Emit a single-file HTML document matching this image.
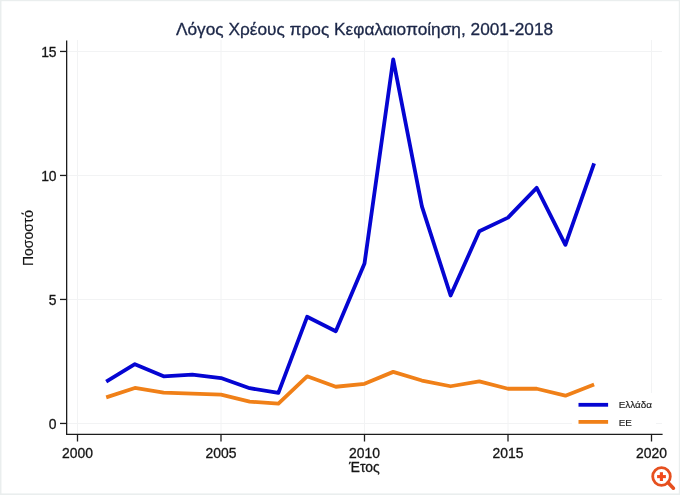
<!DOCTYPE html>
<html lang="el">
<head>
<meta charset="utf-8">
<title>Λόγος Χρέους προς Κεφαλαιοποίηση, 2001-2018</title>
<style>
html,body{margin:0;padding:0;background:#fff;}
body{width:680px;height:495px;overflow:hidden;position:relative;font-family:"Liberation Sans",sans-serif;}
svg{display:block;position:absolute;left:0;top:0;}
.g{stroke:#f2f3f4;stroke-width:1;}
.a{stroke:#1c1c1c;stroke-width:1.3;}
.t{font-family:"Liberation Sans",sans-serif;font-size:13.9px;fill:#151515;stroke:#151515;stroke-width:0.3px;}
.ttl{font-family:"Liberation Sans",sans-serif;font-size:17.28px;fill:#1c2748;stroke:#1c2748;stroke-width:0.3px;}
.lg{font-family:"Liberation Sans",sans-serif;font-size:9.9px;fill:#1a1a1a;stroke:#1a1a1a;stroke-width:0.15px;}
</style>
</head>
<body>
<svg width="680" height="495" viewBox="0 0 680 495">
<rect x="0" y="0" width="680" height="495" fill="#eaeeee"/>
<rect x="1.5" y="1.2" width="677.3" height="492.2" fill="#ffffff"/>
<line x1="77.50" y1="40" x2="77.50" y2="434" class="g"/>
<line x1="221.00" y1="40" x2="221.00" y2="434" class="g"/>
<line x1="364.50" y1="40" x2="364.50" y2="434" class="g"/>
<line x1="508.00" y1="40" x2="508.00" y2="434" class="g"/>
<line x1="651.50" y1="40" x2="651.50" y2="434" class="g"/>
<line x1="67" y1="423.45" x2="662" y2="423.45" class="g"/>
<line x1="67" y1="299.45" x2="662" y2="299.45" class="g"/>
<line x1="67" y1="175.45" x2="662" y2="175.45" class="g"/>
<line x1="67" y1="51.45" x2="662" y2="51.45" class="g"/>

<line x1="66.65" y1="40.6" x2="66.65" y2="434.6" class="a"/>
<line x1="66.05" y1="434.45" x2="662.6" y2="434.45" class="a"/>
<line x1="77.50" y1="434" x2="77.50" y2="441.5" class="a"/>
<text x="77.50" y="457.7" text-anchor="middle" class="t">2000</text>
<line x1="221.00" y1="434" x2="221.00" y2="441.5" class="a"/>
<text x="221.00" y="457.7" text-anchor="middle" class="t">2005</text>
<line x1="364.50" y1="434" x2="364.50" y2="441.5" class="a"/>
<text x="364.50" y="457.7" text-anchor="middle" class="t">2010</text>
<line x1="508.00" y1="434" x2="508.00" y2="441.5" class="a"/>
<text x="508.00" y="457.7" text-anchor="middle" class="t">2015</text>
<line x1="651.50" y1="434" x2="651.50" y2="441.5" class="a"/>
<text x="651.50" y="457.7" text-anchor="middle" class="t">2020</text>
<line x1="60" y1="423.45" x2="66.65" y2="423.45" class="a"/>
<text x="56.6" y="429.10" text-anchor="end" class="t">0</text>
<line x1="60" y1="299.45" x2="66.65" y2="299.45" class="a"/>
<text x="56.6" y="305.10" text-anchor="end" class="t">5</text>
<line x1="60" y1="175.45" x2="66.65" y2="175.45" class="a"/>
<text x="56.6" y="181.10" text-anchor="end" class="t">10</text>
<line x1="60" y1="51.45" x2="66.65" y2="51.45" class="a"/>
<text x="56.6" y="57.10" text-anchor="end" class="t">15</text>

<text x="364.5" y="34.6" text-anchor="middle" class="ttl">Λόγος Χρέους προς Κεφαλαιοποίηση, 2001-2018</text>
<text transform="translate(32.7,238) rotate(-90)" text-anchor="middle" class="t" style="stroke-width:0.12px">Ποσοστό</text>
<text x="364.3" y="471.5" text-anchor="middle" class="t">Έτος</text>
<rect x="572" y="393" width="84" height="40" fill="#fff"/>
<polyline points="106.20,381.54 134.90,364.18 163.60,376.33 192.30,374.72 221.00,378.07 249.70,388.23 278.40,392.95 307.10,316.81 335.80,331.19 364.50,263.49 393.20,59.39 421.90,206.45 450.60,295.48 479.30,231.25 508.00,217.61 536.70,187.85 565.40,244.89 594.10,163.30" fill="none" stroke="#0505d2" stroke-width="3.8" stroke-linejoin="round" stroke-linecap="butt"/>
<polyline points="106.20,397.41 134.90,387.99 163.60,392.70 192.30,393.69 221.00,394.68 249.70,401.63 278.40,403.61 307.10,376.33 335.80,386.75 364.50,383.77 393.20,371.87 421.90,380.55 450.60,386.25 479.30,381.29 508.00,388.73 536.70,388.73 565.40,395.67 594.10,384.51" fill="none" stroke="#f08018" stroke-width="3.8" stroke-linejoin="round" stroke-linecap="butt"/>
<line x1="578.5" y1="404.8" x2="608.1" y2="404.8" stroke="#0505d2" stroke-width="3.8"/>
<line x1="578.5" y1="421.9" x2="608.1" y2="421.9" stroke="#f08018" stroke-width="3.8"/>
<text x="618.7" y="408.4" class="lg">Ελλάδα</text>
<text x="618.7" y="425.5" class="lg">ΕΕ</text>
<g fill="none" stroke="#e6501f" stroke-width="2.8">
<circle cx="661.5" cy="476.5" r="8.8"/>
<line x1="668" y1="482.6" x2="673.4" y2="488.2" stroke-width="3.6" stroke-linecap="round"/>
<line x1="657.1" y1="476.6" x2="665.9" y2="476.6" stroke="#f24a1c" stroke-width="3.1"/>
<line x1="661.4" y1="472.2" x2="661.4" y2="481" stroke="#f24a1c" stroke-width="3.1"/>
</g>
</svg>
</body>
</html>
